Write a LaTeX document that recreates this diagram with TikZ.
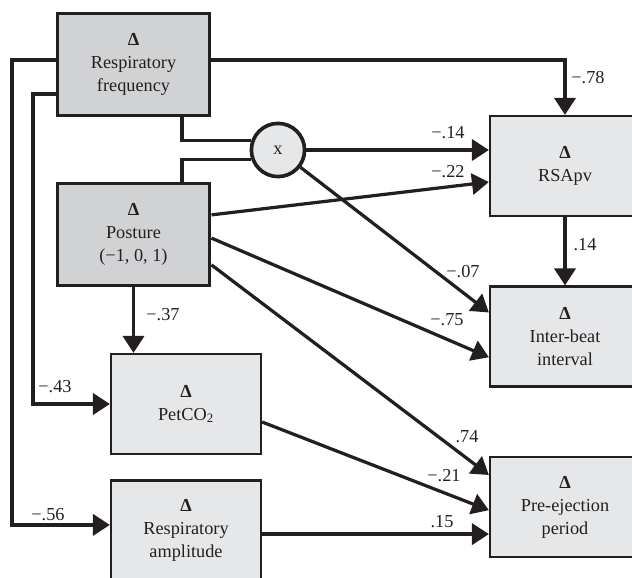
\documentclass[tikz,border=0pt]{standalone}
\usepackage{fontspec}
\setmainfont{Liberation Serif}
\usetikzlibrary{arrows.meta}
\definecolor{ink}{HTML}{231F20}
\definecolor{darkfill}{HTML}{D1D2D4}
\definecolor{lightfill}{HTML}{E6E7E8}

\begin{document}
\begin{tikzpicture}[x=0.025cm,y=-0.025cm,
  font=\fontsize{13}{16.3}\selectfont,
  mainvar/.style={draw=ink,line width=2.8pt,fill=darkfill,text=ink,minimum width=3.8cm,minimum height=2.55cm,align=center,inner sep=0pt},
  outvar/.style={draw=ink,line width=1.6pt,fill=lightfill,text=ink,minimum width=3.75cm,minimum height=2.5cm,align=center,inner sep=0pt},
  multnode/.style={draw=ink,line width=2.6pt,fill=lightfill,circle,minimum size=1.33cm,inner sep=0pt,text=ink},
  link/.style={draw=ink,line width=2.3pt,-{Triangle[length=12pt,width=15pt]}},
  plain/.style={draw=ink,line width=2.3pt},
  coef/.style={text=ink,inner sep=1pt}]

\clip (0,0) rectangle (632,578);

% Predictors
\node[mainvar] (rf) at (133.5,64.5) {\textbf{Δ}\\Respiratory\\frequency};
\node[mainvar] (pos) at (133.5,234.5) {\textbf{Δ}\\Posture\\(−1, 0, 1)};
\node[multnode] (mult) at (278,150) {x};

% Respiration measures
\node[outvar] (pet) at (186,404) {\textbf{Δ}\\PetCO\textsubscript{2}};
\node[outvar] (ra) at (186,530.5) {\textbf{Δ}\\Respiratory\\amplitude};

% Cardiac measures
\node[outvar] (rsa) at (565,166) {\textbf{Δ}\\RSApv};
\node[outvar] (ibi) at (565,336.5) {\textbf{Δ}\\Inter-beat\\interval};
\node[outvar] (pep) at (565,507) {\textbf{Δ}\\Pre-ejection\\period};

% Lanes on the left side
\coordinate (laneA) at (12,300);
\coordinate (laneB) at (33,300);

% Paths
\draw[link] ([yshift=0.11cm]rf.east) -| (rsa.north); % frequency to RSApv
\draw[link] ([yshift=0.11cm]rf.west) -| (laneA) |- ([yshift=0.14cm]ra.west);
\draw[link] ([yshift=-0.74cm]rf.west) -| (laneB) |- (pet.west);
\draw[plain] ([xshift=1.21cm]rf.south) |- (mult.161); % into the product term
\draw[plain] ([xshift=1.21cm]pos.north) |- (mult.199);
\draw[link] (mult.east) -- (mult.east -| rsa.west);
\draw[link] ([yshift=0.49cm]pos.east) -- ([yshift=-0.4cm]rsa.west);
\draw[link] (mult) -- ([yshift=0.6cm]ibi.west);
\draw[link] ([yshift=-0.09cm]pos.east) -- ([yshift=-0.52cm]ibi.west);
\draw[link] ([yshift=-0.76cm]pos.east) -- ([yshift=0.8cm]pep.west);
\draw[link] (pos.south) -- (pos.south |- pet.north);
\draw[link] (rsa.south) -- (ibi.north);
\draw[link] ([yshift=-0.45cm]pet.east) -- ([yshift=-0.08cm]pep.west);
\draw[link] ([yshift=-0.09cm]ra.east) coordinate (raout) -- (raout -| pep.west);

% Coefficients
\node[coef] (c78) at (588,78) {−.78};
\node[coef] (c14a) at (448,133) {−.14};
\node[coef] (c22) at (448,172) {−.22};
\node[coef] (c07) at (463,272) {−.07};
\node[coef] (c75) at (447,320) {−.75};
\node[coef] (c14b) at (585,245) {.14};
\node[coef] (c37) at (163,315) {−.37};
\node[coef] (c43) at (55,387) {−.43};
\node[coef] (c56) at (48,515) {−.56};
\node[coef] (c74) at (467,437) {.74};
\node[coef] (c21) at (444,476) {−.21};
\node[coef] (c15) at (442,522) {.15};

\end{tikzpicture}
\end{document}
